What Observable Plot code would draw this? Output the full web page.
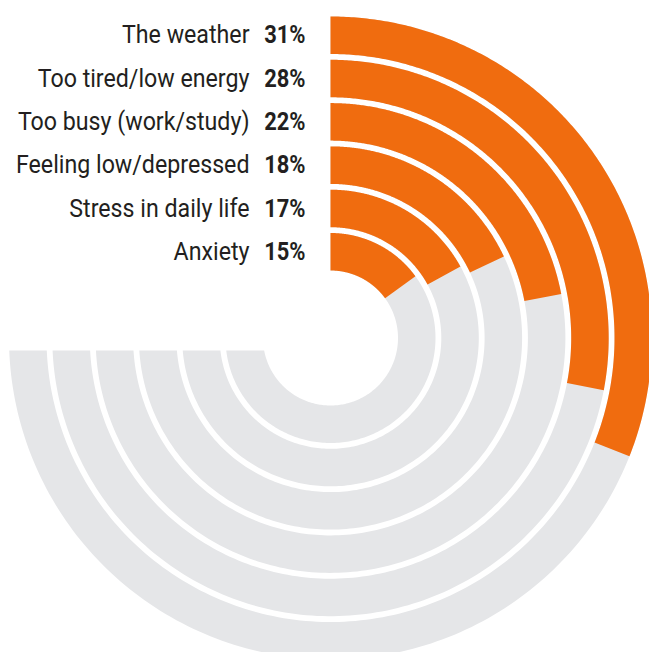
<!DOCTYPE html>
<html>
<head>
<meta charset="utf-8">
<script src="https://cdn.jsdelivr.net/npm/d3@7"></script>
<script src="https://cdn.jsdelivr.net/npm/@observablehq/plot@0.6"></script>
<style>
  html, body { margin: 0; padding: 0; background: #ffffff; }
  #chart svg { display: block; }
</style>
</head>
<body>
<div id="chart"></div>
<script>
// ---- data ----
const categories = ["The weather", "Too tired/low energy", "Too busy (work/study)", "Feeling low/depressed", "Stress in daily life", "Anxiety"];
const values = [31, 28, 22, 18, 17, 15];   // percent of a full circle
const trackEnd = 75;                        // grey track runs to 75% of the circle

// ---- layout / style ----
const W = 649, H = 652;
const innerR = 67.5, outerR = 321.5, ringPad = 0.134;
const cutBelow = 12.5;          // grey track is cut flat just below the centre on the left
const orange = "#F06C0F", grey = "#E5E6E8", ink = "#231F20";
const font = "Roboto, 'Liberation Sans', sans-serif";
const labelSqueeze = 0.91, pctSqueeze = 0.86;   // condensed look

const radius = d3.scaleBand().domain([...categories].reverse()).range([innerR, outerR]).paddingInner(ringPad);
const bw = radius.bandwidth();
const angle = d3.scaleLinear().domain([0, 100]).range([0, 2 * Math.PI]);

function arcPoints(key, a0, a1out, a1in, r0, r1) {
  const pts = [];
  const n = 240;
  for (let k = 0; k <= n; k++) {
    const t = a0 + (a1out - a0) * k / n;
    pts.push({key, x: r1 * Math.sin(t), y: -r1 * Math.cos(t)});
  }
  for (let k = n; k >= 0; k--) {
    const t = a0 + (a1in - a0) * k / n;
    pts.push({key, x: r0 * Math.sin(t), y: -r0 * Math.cos(t)});
  }
  return pts;
}

const trackRows = [], barRows = [];
categories.forEach((c, i) => {
  const r0 = radius(c), r1 = r0 + bw;
  const endOut = Math.min(angle(trackEnd), 2 * Math.PI - Math.acos(-cutBelow / r1));
  const endIn = Math.min(angle(trackEnd), 2 * Math.PI - Math.acos(-cutBelow / r0));
  trackRows.push(...arcPoints(c, 0, endOut, endIn, r0, r1));
  const a = angle(values[i]);
  barRows.push(...arcPoints(c, 0, a, a, r0, r1));
});

const labelRows = categories.map((c, i) => ({c, v: values[i], y: -(radius(c) + bw / 2)}));

const chart = Plot.plot({
  width: W,
  height: H,
  margin: 0,
  x: {domain: [-330, W - 330], axis: null},
  y: {domain: [-337.5, H - 337.5], range: [0, H], axis: null},
  style: {fontFamily: font, background: "#ffffff"},
  marks: [
    Plot.line(trackRows, {x: "x", y: "y", z: "key", fill: grey, stroke: null, curve: "linear"}),
    Plot.line(barRows, {x: "x", y: "y", z: "key", fill: orange, stroke: null, curve: "linear"}),
    Plot.text(labelRows, {x: 0, y: "y", text: "c", textAnchor: "end", dx: -81, fontSize: 25.5, fill: ink, fontWeight: 400}),
    Plot.text(labelRows, {x: 0, y: "y", text: d => d.v + "%", textAnchor: "end", dx: -25, fontSize: 25.5, fill: ink, fontWeight: 700})
  ]
});

// horizontally condense each text about its (end) anchor
const groups = chart.querySelectorAll('g[aria-label="text"]');
[labelSqueeze, pctSqueeze].forEach((s, gi) => {
  const g = groups[gi];
  if (!g) return;
  g.querySelectorAll("text").forEach(t => {
    const tr = t.getAttribute("transform");
    if (tr && tr.includes("translate")) {
      t.setAttribute("transform", tr + ` scale(${s},1)`);
    } else {
      const x = +(t.getAttribute("x") || 0);
      t.setAttribute("transform", `translate(${x},0) scale(${s},1) translate(${-x},0)`);
    }
  });
});

document.getElementById("chart").appendChild(chart);
</script>
</body>
</html>
